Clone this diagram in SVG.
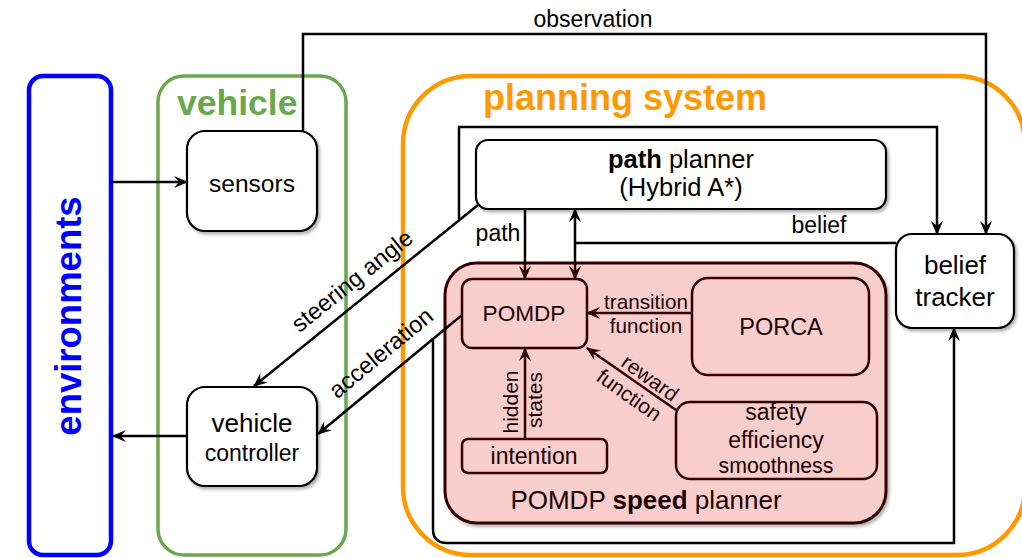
<svg xmlns="http://www.w3.org/2000/svg" width="1022" height="558" viewBox="0 0 1022 558">
  <defs>
    <style>
      text { font-family: "Liberation Sans", Arial, Helvetica, sans-serif; fill: #000; }
      .box { fill: #fff; stroke: #000; stroke-width: 2.2; }
      .inner { fill: #f8cecc; stroke: #330000; stroke-width: 2.5; }
      .wire { fill: none; stroke: #000; stroke-width: 2.5; }
      .wire-dk { fill: none; stroke: #330000; stroke-width: 2.5; }
      .c { text-anchor: middle; }
      .dk { fill: #1a0000; }
      .title { font-weight: bold; font-size: 36px; }
    </style>
    <marker id="arr" viewBox="0 0 14 12" refX="13" refY="6" markerWidth="14" markerHeight="12" markerUnits="userSpaceOnUse" orient="auto">
      <path d="M0,0 L14,6 L0,12 L5,6 z" fill="#000"/>
    </marker>
    <marker id="arr-dk" viewBox="0 0 14 12" refX="13" refY="6" markerWidth="14" markerHeight="12" markerUnits="userSpaceOnUse" orient="auto">
      <path d="M0,0 L14,6 L0,12 L5,6 z" fill="#330000"/>
    </marker>
    <filter id="shadow" x="-10%" y="-10%" width="125%" height="130%">
      <feDropShadow dx="2" dy="2.5" stdDeviation="1.5" flood-color="#000" flood-opacity="0.3"/>
    </filter>
  </defs>

  <!-- outer containers -->
  <g id="environments">
    <rect x="29" y="76" width="82" height="479" rx="14" fill="none" stroke="#0000ff" stroke-width="4.5"/>
    <text class="title c" transform="translate(81,316) rotate(-90)" style="fill:#0000ff; font-size:36.5px">environments</text>
  </g>

  <g id="vehicle">
    <rect x="158" y="76" width="188" height="479" rx="26" fill="none" stroke="#6aa84f" stroke-width="3.5"/>
    <text class="title" x="177" y="115" style="fill:#6aa84f; font-size:35.5px">vehicle</text>
  </g>

  <g id="planning-system">
    <rect x="403" y="76" width="622" height="479" rx="68" fill="none" stroke="#ff9900" stroke-width="4.5"/>
    <text class="title" x="483" y="110" style="fill:#ff9900">planning system</text>
  </g>

  <g id="speed-planner">
    <rect x="445" y="263" width="441" height="260" rx="32" fill="#f8cecc" stroke="#330000" stroke-width="3" filter="url(#shadow)"/>
    <text class="c dk" x="646" y="509" font-size="26">POMDP <tspan font-weight="bold">speed</tspan> planner</text>
  </g>

  <!-- vehicle nodes -->
  <g id="sensors">
    <rect class="box" x="187" y="131" width="130" height="100" rx="18" filter="url(#shadow)"/>
    <text class="c" x="252" y="192" font-size="24.5">sensors</text>
  </g>

  <g id="vehicle-controller">
    <rect class="box" x="187" y="387" width="130" height="99" rx="18" filter="url(#shadow)"/>
    <text class="c" x="252" y="432" font-size="26">vehicle</text>
    <text class="c" x="252" y="461" font-size="23">controller</text>
  </g>

  <!-- planning nodes -->
  <g id="path-planner">
    <rect class="box" x="476" y="140" width="410" height="69" rx="12" filter="url(#shadow)"/>
    <text class="c" x="681" y="168" font-size="25.5"><tspan font-weight="bold">path</tspan> planner</text>
    <text class="c" x="681" y="196" font-size="25.5">(Hybrid A*)</text>
  </g>

  <g id="belief-tracker">
    <rect class="box" x="896" y="234" width="118" height="94" rx="16" filter="url(#shadow)"/>
    <text class="c" x="955" y="274" font-size="26">belief</text>
    <text class="c" x="955" y="306" font-size="26">tracker</text>
  </g>

  <g id="pomdp">
    <rect class="inner" x="462" y="279" width="125" height="69" rx="10"/>
    <text class="c dk" x="524" y="321" font-size="22.6">POMDP</text>
  </g>

  <g id="porca">
    <rect class="inner" x="692" y="278" width="177" height="97" rx="16"/>
    <text class="c dk" x="781" y="335" font-size="23.5">PORCA</text>
  </g>

  <g id="objectives">
    <rect class="inner" x="676" y="402" width="201" height="77" rx="14"/>
    <text class="c dk" x="776" y="420" font-size="23">safety</text>
    <text class="c dk" x="776" y="448" font-size="23">efficiency</text>
    <text class="c dk" x="776" y="473" font-size="21.3">smoothness</text>
  </g>

  <g id="intention">
    <rect class="inner" x="462" y="439" width="145" height="34" rx="6"/>
    <text class="c dk" x="534" y="464" font-size="23">intention</text>
  </g>

  <!-- connectors -->
  <g id="connectors">
    <!-- environment to sensors, controller to environment -->
    <path class="wire" d="M111,182 H187" marker-end="url(#arr)"/>
    <path class="wire" d="M187,436 H113" marker-end="url(#arr)"/>

    <!-- observation: sensors to belief tracker -->
    <path class="wire" d="M303,131 V34 H986 V234" marker-end="url(#arr)"/>
    <text class="c" x="593" y="27" font-size="23">observation</text>

    <!-- steering angle: path planner to controller, tapped to belief tracker -->
    <path class="wire" d="M478,205 L254,386" marker-end="url(#arr)"/>
    <path class="wire" d="M459,219 V127 H937 V234" marker-end="url(#arr)"/>
    <text class="c" transform="translate(357,287) rotate(-38.7)" font-size="23.5">steering angle</text>

    <!-- acceleration: POMDP to controller, tapped to belief tracker -->
    <path class="wire" d="M462,315 L318,434" marker-end="url(#arr)"/>
    <path class="wire" d="M433,338 V529 Q433,543 447,543 H954 V328" marker-end="url(#arr)"/>
    <text class="c" transform="translate(386,359) rotate(-39.6)" font-size="23.5">acceleration</text>

    <!-- path: path planner to POMDP -->
    <path class="wire" d="M525,209 V265"/>
    <path class="wire-dk" d="M525,263 V279" marker-end="url(#arr-dk)"/>
    <text class="c" x="498" y="241" font-size="23">path</text>

    <!-- belief: belief tracker to path planner and POMDP -->
    <path class="wire" d="M896,243 H575"/>
    <path class="wire" d="M575,243 V209" marker-end="url(#arr)"/>
    <path class="wire" d="M575,243 V265"/>
    <path class="wire-dk" d="M575,263 V279" marker-end="url(#arr-dk)"/>
    <text class="c" x="819" y="233" font-size="23">belief</text>

    <!-- transition function: PORCA to POMDP -->
    <path class="wire-dk" d="M692,313 H587" marker-end="url(#arr-dk)"/>
    <text class="c dk" x="646" y="309" font-size="20.7">transition</text>
    <text class="c dk" x="646" y="333" font-size="20.7">function</text>

    <!-- reward function: objectives to POMDP -->
    <path class="wire-dk" d="M676,410 L587,348" marker-end="url(#arr-dk)"/>
    <text class="c dk" transform="translate(646,384) rotate(35.5)" font-size="21">reward</text>
    <text class="c dk" transform="translate(625,401) rotate(35.5)" font-size="21">function</text>

    <!-- hidden states: intention to POMDP -->
    <path class="wire-dk" d="M525,439 V348" marker-end="url(#arr-dk)"/>
    <text class="c dk" transform="translate(518,402) rotate(-90)" font-size="21">hidden</text>
    <text class="c dk" transform="translate(542,400) rotate(-90)" font-size="21">states</text>
  </g>
</svg>
